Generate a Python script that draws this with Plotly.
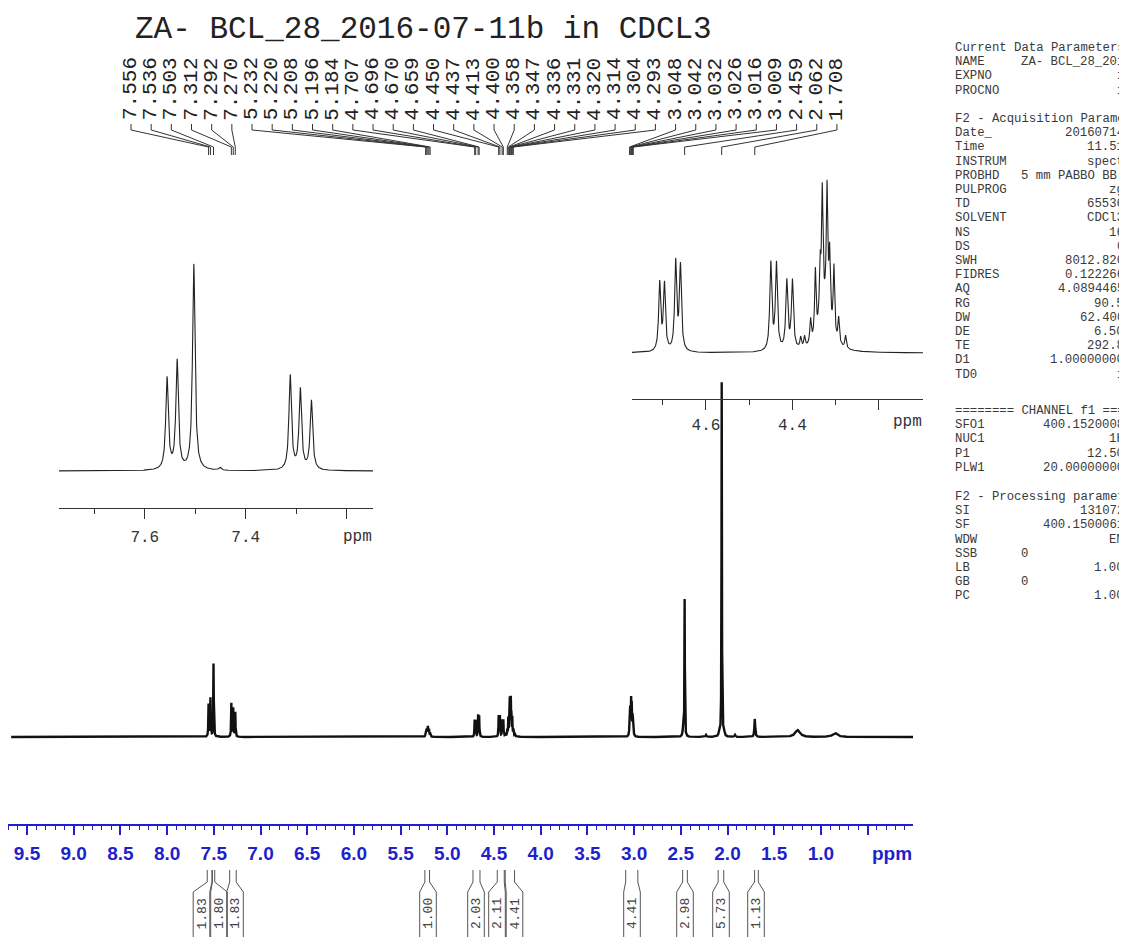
import numpy as np
import plotly.graph_objects as go

W, H = 1127, 937
OX, OY = 8, 8  # page margin around the plot div

# peak list: shift (ppm), height (main-plot units), half width (ppm)
peak_ppm = [7.556, 7.536, 7.503, 7.451, 7.312, 7.292, 7.270,
            5.232, 5.220, 5.208, 5.196, 5.184,
            4.707, 4.696, 4.670, 4.659,
            4.450, 4.437, 4.413, 4.400,
            4.381, 4.372, 4.358, 4.347, 4.336, 4.331, 4.320, 4.314, 4.304, 4.293, 4.277, 4.325,
            3.048, 3.042, 3.032, 3.026, 3.016, 3.009,
            2.475, 2.459, 2.230, 2.090, 2.062, 2.040, 1.920, 1.708, 1.250, 0.850]
peak_height = [32.5, 38.5, 73.0, 1.0, 33.5, 28.5, 24.5,
               3.0, 7.0, 9.5, 7.0, 3.0,
               16.2, 15.8, 21.1, 20.2,
               20.8, 20.5, 16.3, 16.3,
               2.5, 2.5, 5.7, 16.0, 13.0, 29.0, 29.5, 16.0, 16.5, 6.0, 3.0, 9.5,
               18.0, 24.0, 32.0, 28.0, 18.0, 14.0,
               8.0, 137.0, 2.0, 4.0, 354.0, 7.0, 2.0, 18.0, 7.0, 4.0]
peak_hwhm = [0.003, 0.003, 0.003, 0.003, 0.003, 0.003, 0.003,
             0.004, 0.004, 0.004, 0.004, 0.004,
             0.0028, 0.0028, 0.0028, 0.0028,
             0.0028, 0.0028, 0.0028, 0.0028,
             0.002, 0.002, 0.002, 0.002, 0.002, 0.002, 0.002, 0.002, 0.002, 0.002, 0.002, 0.015,
             0.003, 0.003, 0.003, 0.003, 0.003, 0.003,
             0.006, 0.0025, 0.006, 0.006, 0.0025, 0.006, 0.006, 0.005, 0.03, 0.03]

# picked peaks printed along the top
label_ppm = [7.556, 7.536, 7.503, 7.312, 7.292, 7.270,
             5.232, 5.220, 5.208, 5.196, 5.184,
             4.707, 4.696, 4.670, 4.659, 4.450, 4.437, 4.413, 4.400,
             4.358, 4.347, 4.336, 4.331, 4.320, 4.314, 4.304, 4.293,
             3.048, 3.042, 3.032, 3.026, 3.016, 3.009,
             2.459, 2.062, 1.708]

# integrals under the axis
int_values = ["1.83", "1.80", "1.83", "1.00", "2.03", "2.11", "4.41", "4.41", "2.98", "5.73", "1.13"]
int_from = [7.57, 7.515, 7.33, 5.24, 4.725, 4.465, 4.38, 3.09, 2.48, 2.10, 1.71]
int_to = [7.52, 7.49, 7.26, 5.19, 4.65, 4.39, 4.28, 2.96, 2.43, 2.04, 1.67]

main_ticks = [9.5, 9.0, 8.5, 8.0, 7.5, 7.0, 6.5, 6.0, 5.5, 5.0, 4.5, 4.0, 3.5, 3.0, 2.5, 2.0, 1.5, 1.0, 0.5]
main_ticktext = ["9.5", "9.0", "8.5", "8.0", "7.5", "7.0", "6.5", "6.0", "5.5", "5.0",
                 "4.5", "4.0", "3.5", "3.0", "2.5", "2.0", "1.5", "1.0", ""]
inset1_ticks = [7.6, 7.4, 7.2]
inset1_ticktext = ["7.6", "7.4", ""]
inset1_minor = [7.7, 7.5, 7.3]
inset2_ticks = [4.6, 4.4, 4.2]
inset2_ticktext = ["4.6", "4.4", ""]
inset2_minor = [4.7, 4.5, 4.3]

# acquisition parameter panel
par_block1 = [("Current Data Parameters", ""), ("NAME", "ZA- BCL_28_201"), ("EXPNO", "1"), ("PROCNO", "1")]
par_block2 = [("F2 - Acquisition Parame", ""), ("Date_", "20160714"), ("Time", "11.51"),
              ("INSTRUM", "spect"), ("PROBHD", "5 mm PABBO BB-"), ("PULPROG", "zg"),
              ("TD", "65536"), ("SOLVENT", "CDCl3"), ("NS", "16"), ("DS", "0"),
              ("SWH", "8012.820"), ("FIDRES", "0.122266"), ("AQ", "4.0894465"),
              ("RG", "90.5"), ("DW", "62.400"), ("DE", "6.50"), ("TE", "292.8"),
              ("D1", "1.00000000"), ("TD0", "1")]
par_block3 = [("======== CHANNEL f1 ===", ""), ("SFO1", "400.1520008"), ("NUC1", "1H"),
              ("P1", "12.50"), ("PLW1", "20.00000000")]
par_block4 = [("F2 - Processing paramet", ""), ("SI", "131072"), ("SF", "400.1500061"),
              ("WDW", "EM"), ("SSB", "0"), ("LB", "1.00"), ("GB", "0"), ("PC", "1.00")]


def py(p):
    return 1 - (p - OY) / H


def px(p):
    return (p - OX) / W


def ppm_at(p):
    # main axis: 9.5 ppm at pixel 27, 93.4 px per ppm
    return 9.5 - (p - 27) / 93.4


# spectrum built from the peak list
grid = np.arange(0.0, 9.67, 0.0005)
x = np.unique(np.concatenate([grid, np.array(peak_ppm)]))[::-1]
y = np.zeros_like(x)
for p, h, w in zip(peak_ppm, peak_height, peak_hwhm):
    y += h / (1 + ((x - p) / w) ** 2)

BLUE = "#1f1fcc"
MONO = "Liberation Mono, Courier New, monospace"
INK = "#222222"

fig = go.Figure()
fig.add_trace(go.Scatter(x=x, y=y, mode="lines", line=dict(color="#111111", width=2.4),
                         xaxis="x", yaxis="y", hoverinfo="skip"))
m1 = (x > 7.14) & (x < 7.78)
fig.add_trace(go.Scatter(x=x[m1], y=y[m1], mode="lines", line=dict(color=INK, width=1.1),
                         xaxis="x2", yaxis="y2", hoverinfo="skip"))
m2 = (x > 4.09) & (x < 4.78)
fig.add_trace(go.Scatter(x=x[m2], y=y[m2], mode="lines", line=dict(color=INK, width=1.1),
                         xaxis="x3", yaxis="y3", hoverinfo="skip"))

shapes = []
ann = []


def note(xv, yv, text, font, xref="paper", xanchor="center", angle=0):
    ann.append(dict(x=xv, y=yv, xref=xref, yref="paper", showarrow=False, text=text,
                    font=font, xanchor=xanchor, yanchor="middle", textangle=angle))


# title
note(px(423), py(29), "ZA- BCL_28_2016-07-11b in CDCL3", dict(family=MONO, size=31, color=INK))

# peak labels and their connectors
for i, v in enumerate(label_ppm):
    lx = ppm_at(131 + 20.17 * i)
    note(lx, py(89), f"{v:.3f}", dict(family=MONO, size=21, color=INK), xref="x", angle=-90)
    shapes.append(dict(type="path", xref="x", yref="paper",
                       path=f"M {lx},{py(124)} L {lx},{py(130)} L {v},{py(147)} L {v},{py(155)}",
                       line=dict(color="#333333", width=1)))

# integrals
int_box_px = [201.5, 219, 235, 428, 476, 497, 514.5, 632, 685, 721, 756]
for val, a, b, c in zip(int_values, int_from, int_to, int_box_px):
    bl, br = ppm_at(c - 8.3), ppm_at(c + 8.3)
    path = (f"M {a},{py(870)} L {a},{py(882)} L {bl},{py(892)} L {bl},{py(950)} "
            f"M {b},{py(870)} L {b},{py(882)} L {br},{py(892)} L {br},{py(950)}")
    shapes.append(dict(type="path", xref="x", yref="paper", path=path,
                       line=dict(color="#555555", width=1)))
    note(ppm_at(c), py(914), val, dict(family=MONO, size=13, color="#444444"), xref="x", angle=-90)

# ppm unit labels
note(px(892), py(853), "ppm", dict(family="Arial, Liberation Sans", size=19, color=BLUE, weight="bold"))
note(px(357), py(537), "ppm", dict(family=MONO, size=16, color="#333333"))
note(px(907), py(422), "ppm", dict(family=MONO, size=16, color="#333333"))

# parameter panel
pfont = dict(family=MONO, size=12.3, color="#3a3a3a")
for y0, block in [(48, par_block1), (119, par_block2), (411, par_block3), (497, par_block4)]:
    for k, (name, val) in enumerate(block):
        yy = py(y0 + 14.2 * k)
        note(px(953), yy, name, pfont, xanchor="left")
        if val:
            if name in ("SSB", "GB"):
                note(px(1019), yy, val, pfont, xanchor="left")
            else:
                note(px(1126), yy, val, pfont, xanchor="right")

main_minor = [round(v, 1) for v in np.arange(9.7, 0.05, -0.1) if round(v * 10) % 5 != 0]

fig.update_layout(
    width=W, height=H, margin=dict(l=0, r=0, t=0, b=0),
    paper_bgcolor="white", plot_bgcolor="rgba(0,0,0,0)", showlegend=False,
    xaxis=dict(domain=[px(8), px(913)], range=[ppm_at(8), ppm_at(913)], anchor="y",
               showline=True, linecolor=BLUE, linewidth=1.5, showgrid=False, zeroline=False,
               ticks="outside", ticklen=9, tickwidth=1.5, tickcolor=BLUE,
               tickmode="array", tickvals=main_ticks, ticktext=main_ticktext,
               ticklabelstandoff=2,
               tickfont=dict(family="Arial, Liberation Sans", size=19, color=BLUE, weight="bold"),
               minor=dict(tickmode="array", tickvals=main_minor, ticks="outside", ticklen=4,
                          tickwidth=1, tickcolor=BLUE)),
    yaxis=dict(domain=[py(824), py(370)], range=[-87, 367], visible=False),
    xaxis2=dict(domain=[px(59), px(373)], range=[7.77, 7.148], anchor="y2",
                showline=True, linecolor="#333333", linewidth=1, showgrid=False, zeroline=False,
                ticks="outside", ticklen=10, tickcolor="#333333",
                tickmode="array", tickvals=inset1_ticks, ticktext=inset1_ticktext,
                ticklabelstandoff=4, tickfont=dict(family=MONO, size=16, color="#333333"),
                minor=dict(tickmode="array", tickvals=inset1_minor, ticks="outside",
                           ticklen=5, tickcolor="#333333")),
    yaxis2=dict(domain=[py(508), py(240)], range=[-(508 - 471) / 2.82, (471 - 240) / 2.82],
                visible=False),
    xaxis3=dict(domain=[px(632), px(923)], range=[4.771, 4.098], anchor="y3",
                showline=True, linecolor="#333333", linewidth=1, showgrid=False, zeroline=False,
                ticks="outside", ticklen=10, tickcolor="#333333",
                tickmode="array", tickvals=inset2_ticks, ticktext=inset2_ticktext,
                ticklabelstandoff=1, tickfont=dict(family=MONO, size=16, color="#333333"),
                minor=dict(tickmode="array", tickvals=inset2_minor, ticks="outside",
                           ticklen=5, tickcolor="#333333")),
    yaxis3=dict(domain=[py(399), py(160)], range=[-(399 - 353) / 4.2, (353 - 160) / 4.2],
                visible=False),
    shapes=shapes,
    annotations=ann,
)

fig.write_html("out.html")
